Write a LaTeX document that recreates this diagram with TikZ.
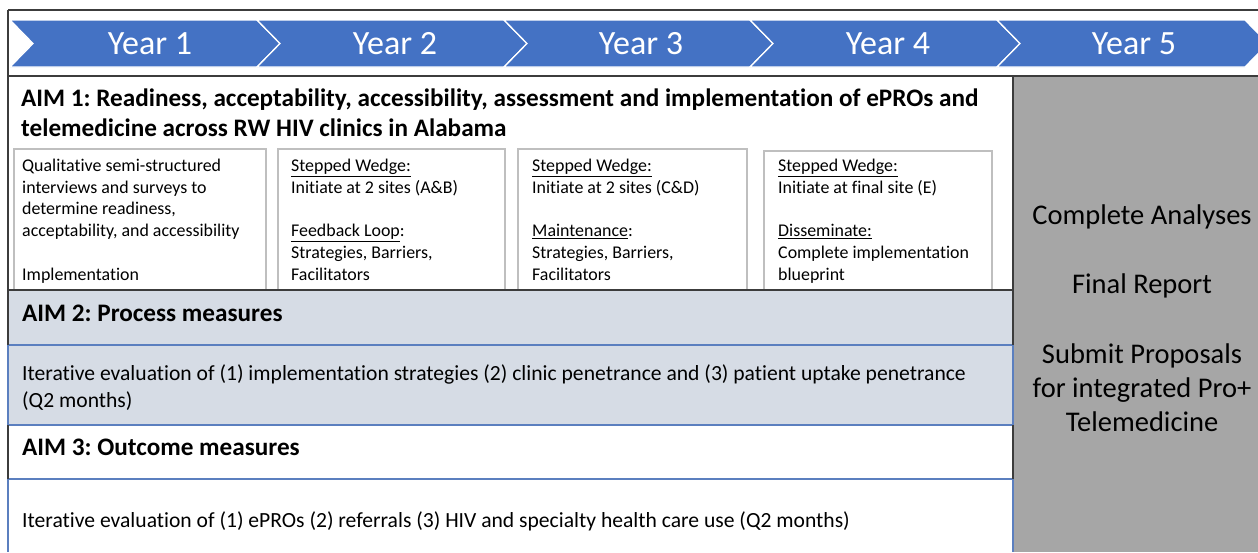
\documentclass[tikz,border=0pt]{standalone}
\usepackage{fontspec}
\setmainfont{Carlito}[Ligatures=NoCommon]
\frenchspacing
\definecolor{yearblue}{HTML}{4472C4}
\definecolor{aimfill}{HTML}{D6DCE5}
\definecolor{aimline}{HTML}{5B7FBF}
\definecolor{frame}{HTML}{3C3C3C}
\definecolor{subline}{HTML}{BFBFBF}
\definecolor{panel}{HTML}{A6A6A6}
\newcommand\uln[1]{\underline{#1}}
\begin{document}
\begin{tikzpicture}[x=1pt,y=-1pt,
  chevron/.style={fill=yearblue,draw=white,line width=1.3pt},
  yearlbl/.style={anchor=base,inner sep=0,text=white,font=\fontsize{34}{40}\selectfont},
  aimhead/.style={anchor=base west,inner sep=0,font=\fontsize{25.2}{30}\bfseries\selectfont},
  aimbody/.style={anchor=base west,inner sep=0,font=\fontsize{21.6}{26}\selectfont},
  subtxt/.style={anchor=base west,inner sep=0,font=\fontsize{17.9}{21.7}\selectfont},
  paneltxt/.style={anchor=base,inner sep=0,font=\fontsize{28.5}{34}\selectfont},
  subbox/.style={draw=subline,line width=1.3pt},
  darkline/.style={draw=frame,line width=1.8pt},
  blueline/.style={draw=aimline,line width=1.5pt}]
\useasboundingbox (0,0) rectangle (1258,552);
\clip (0,0) rectangle (1258,552);
\fill[white] (0,0) rectangle (1258,552);

% year chevrons
\foreach \L/\R in {10/257,257/504,504/750,750/997,997/1245}
  \fill[chevron] (\L,20) -- (\R,20) -- (\R+23,43.5) -- (\R,67) -- (\L,67) -- (\L+23,43.5) -- cycle;
\node[yearlbl] (y1) at (150,54) {Year 1};
\node[yearlbl] (y2) at (395,54) {Year 2};
\node[yearlbl] (y3) at (641,54) {Year 3};
\node[yearlbl] (y4) at (888,54) {Year 4};
\node[yearlbl] (y5) at (1134,54) {Year 5};

% right-hand panel for year 5
\fill[panel] (1013,76) rectangle (1258,552);

% aim 2 band
\fill[aimfill] (8,290) rectangle (1013,425);

% aim 1 sub boxes
\draw[subbox] (14,149) rectangle (266,290);
\draw[subbox] (278,149) rectangle (505,290);
\draw[subbox] (518,149) rectangle (747,290);
\draw[subbox] (764,151) rectangle (992,290);

% frame lines
\draw[blueline] (8,345) -- (1013,345);
\draw[blueline] (8,425) -- (1013,425);
\draw[blueline] (8,479) -- (1013,479);
\draw[darkline] (8,10) -- (1258,10);
\draw[darkline] (8,10) -- (8,552);
\draw[darkline] (8,76) -- (1258,76);
\draw[darkline] (8,290) -- (1013,290);
\draw[darkline] (1013,76) -- (1013,552);
\draw[blueline] (8,345) -- (8,425);
\draw[blueline] (8,479) -- (8,552);
\draw[blueline] (1013,345) -- (1013,425);
\draw[blueline] (1013,479) -- (1013,552);

% aim 1
\node[aimhead] (a1a) at (21,106) {AIM 1: Readiness, acceptability, accessibility, assessment and implementation of ePROs and};
\node[aimhead] (a1b) at (21,136) {telemedicine across RW HIV clinics in Alabama};

\node[subtxt] (b1a) at (22,171.5) {Qualitative semi-structured};
\node[subtxt] (b1b) at (22,193.2) {interviews and surveys to};
\node[subtxt] (b1c) at (22,214.9) {determine readiness,};
\node[subtxt] (b1d) at (22,236.6) {acceptability, and accessibility};
\node[subtxt] (b1e) at (22,280) {Implementation};

\node[subtxt] (b2a) at (291,171.5) {\uln{Stepped Wedge:}};
\node[subtxt] (b2b) at (291,193.2) {Initiate at 2 sites (A\&B)};
\node[subtxt] (b2c) at (291,236.6) {\uln{Feedback Loop}:};
\node[subtxt] (b2d) at (291,258.3) {Strategies, Barriers,};
\node[subtxt] (b2e) at (291,280) {Facilitators};

\node[subtxt] (b3a) at (532,171.5) {\uln{Stepped Wedge:}};
\node[subtxt] (b3b) at (532,193.2) {Initiate at 2 sites (C\&D)};
\node[subtxt] (b3c) at (532,236.6) {\uln{Maintenance}:};
\node[subtxt] (b3d) at (532,258.3) {Strategies, Barriers,};
\node[subtxt] (b3e) at (532,280) {Facilitators};

\node[subtxt] (b4a) at (778,171.5) {\uln{Stepped Wedge:}};
\node[subtxt] (b4b) at (778,193.2) {Initiate at final site (E)};
\node[subtxt] (b4c) at (778,236.6) {\uln{Disseminate:}};
\node[subtxt] (b4d) at (778,258.3) {Complete implementation};
\node[subtxt] (b4e) at (778,280) {blueprint};

% aim 2
\node[aimhead] (a2) at (22,321) {AIM 2: Process measures};
\node[aimbody] (a2a) at (22,380) {Iterative evaluation of (1) implementation strategies (2) clinic penetrance and (3) patient uptake penetrance};
\node[aimbody] (a2b) at (22,407) {(Q2 months)};

% aim 3
\node[aimhead] (a3) at (22,455) {AIM 3: Outcome measures};
\node[aimbody] (a3a) at (22,527) {Iterative evaluation of (1) ePROs (2) referrals (3) HIV and specialty health care use (Q2 months)};

% year 5 tasks
\node[paneltxt] (p1) at (1142,224) {Complete Analyses};
\node[paneltxt] (p2) at (1142,293) {Final Report};
\node[paneltxt] (p3) at (1142,363) {Submit Proposals};
\node[paneltxt] (p4) at (1142,397) {for integrated Pro+};
\node[paneltxt] (p5) at (1142,431) {Telemedicine};
\end{tikzpicture}
\end{document}
